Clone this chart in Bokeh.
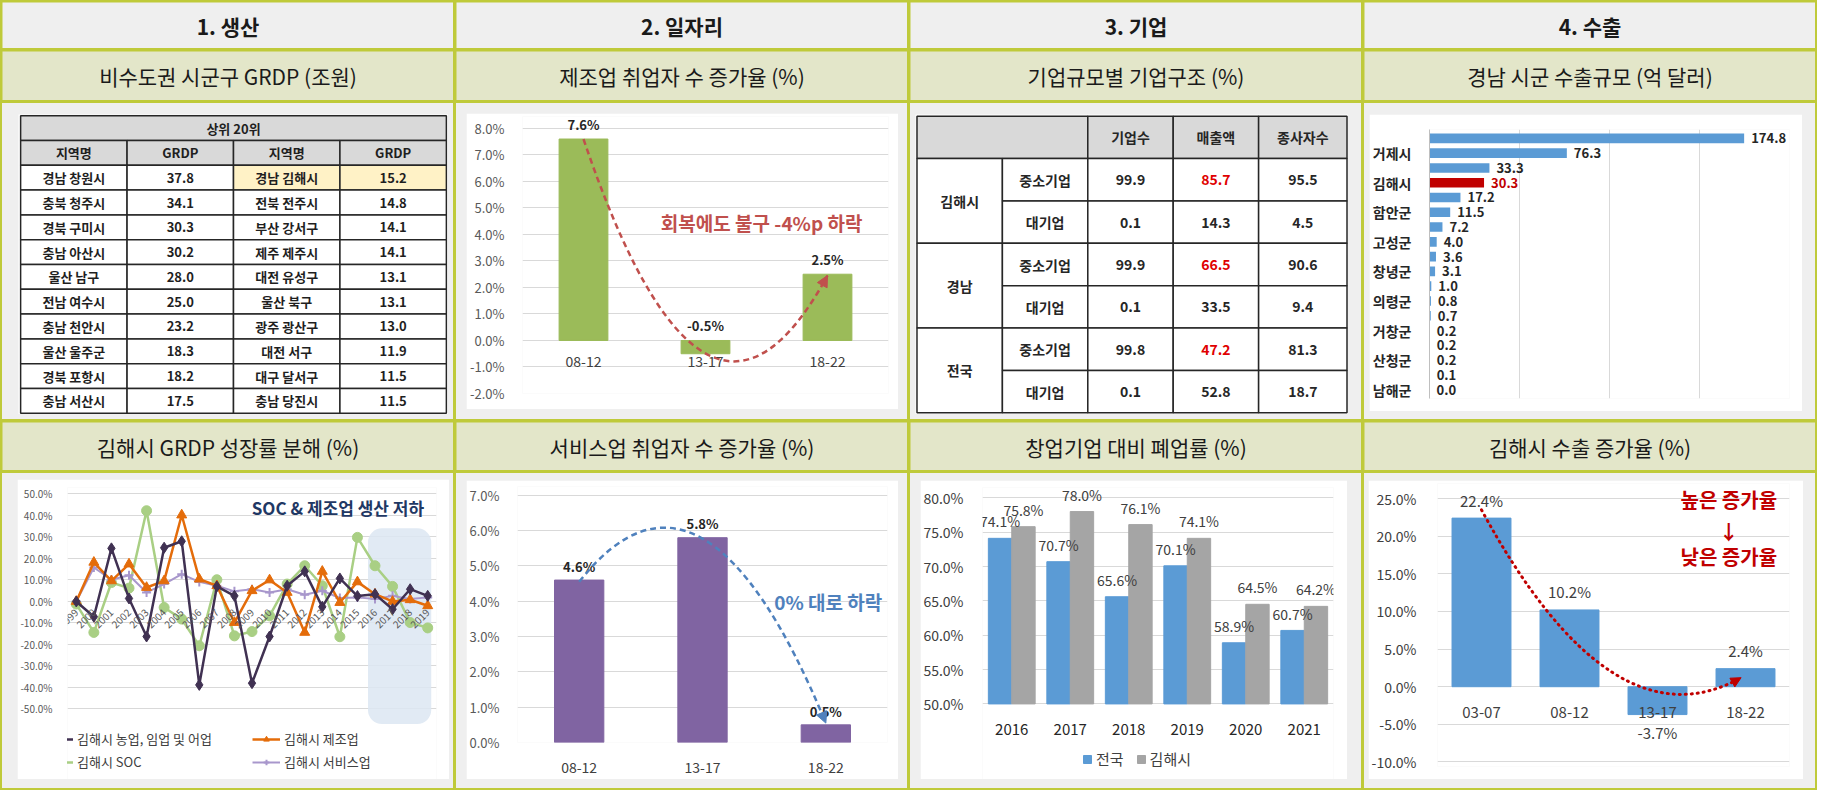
import math
from bokeh.plotting import figure
from bokeh.layouts import row, column
from bokeh.models import (FixedTicker, PrintfTickFormatter, Range1d, Legend, LegendItem,
                          BoxAnnotation, Arrow, NormalHead, Grid)
from bokeh.core.properties import value
from bokeh.embed import file_html
from bokeh.resources import INLINE

FONT = "Noto Sans CJK KR"
GREEN = "#BFCA3A"
HEAD_BG = "#EFEFEF"
SUB_BG = "#E3E6C9"
PANEL_BG = "#EFEFEF"
TABLE_GRAY = "#D9D9D9"
HL_COLOR = "#FFF2C6"
GRID_C = "#D9D9D9"

# ---------------- titles ----------------
SECTION_TITLES = ["1. 생산", "2. 일자리", "3. 기업", "4. 수출"]
TOP_TITLES = ["비수도권 시군구 GRDP (조원)", "제조업 취업자 수 증가율 (%)",
              "기업규모별 기업구조 (%)", "경남 시군 수출규모 (억 달러)"]
BOTTOM_TITLES = ["김해시 GRDP 성장률 분해 (%)", "서비스업 취업자 수 증가율 (%)",
                 "창업기업 대비 폐업률 (%)", "김해시 수출 증가율 (%)"]

# ---------------- panel 1: GRDP table ----------------
GRDP_TITLE = "상위 20위"
GRDP_HEADERS = ["지역명", "GRDP", "지역명", "GRDP"]
GRDP_LEFT_NAMES = ["경남 창원시", "충북 청주시", "경북 구미시", "충남 아산시", "울산 남구",
                   "전남 여수시", "충남 천안시", "울산 울주군", "경북 포항시", "충남 서산시"]
GRDP_LEFT_VALUES = [37.8, 34.1, 30.3, 30.2, 28.0, 25.0, 23.2, 18.3, 18.2, 17.5]
GRDP_RIGHT_NAMES = ["경남 김해시", "전북 전주시", "부산 강서구", "제주 제주시", "대전 유성구",
                    "울산 북구", "광주 광산구", "대전 서구", "대구 달서구", "충남 당진시"]
GRDP_RIGHT_VALUES = [15.2, 14.8, 14.1, 14.1, 13.1, 13.1, 13.0, 11.9, 11.5, 11.5]
GRDP_HIGHLIGHT = "경남 김해시"

# ---------------- panel 2: manufacturing jobs ----------------
MFG_PERIODS = ["08-12", "13-17", "18-22"]
MFG_GROWTH = [7.6, -0.5, 2.5]
MFG_TICKS = [-2.0, -1.0, 0.0, 1.0, 2.0, 3.0, 4.0, 5.0, 6.0, 7.0, 8.0]
MFG_NOTE = "회복에도 불구 -4%p 하락"

# ---------------- panel 3: enterprise structure ----------------
ENT_REGIONS = ["김해시", "경남", "전국"]
ENT_SIZES = ["중소기업", "대기업"]
ENT_COLUMNS = ["기업수", "매출액", "종사자수"]
ENT_COUNT = [99.9, 0.1, 99.9, 0.1, 99.8, 0.1]
ENT_SALES = [85.7, 14.3, 66.5, 33.5, 47.2, 52.8]
ENT_WORKERS = [95.5, 4.5, 90.6, 9.4, 81.3, 18.7]

# ---------------- panel 4: export size by city ----------------
EXP_REGIONS = ["창원시", "거제시", "양산시", "김해시", "진주시", "함안군", "사천시", "고성군", "밀양시",
               "창녕군", "통영시", "의령군", "함양군", "거창군", "하동군", "산청군", "합천군", "남해군"]
EXP_VALUES = [174.8, 76.3, 33.3, 30.3, 17.2, 11.5, 7.2, 4.0, 3.6, 3.1, 1.0, 0.8, 0.7, 0.2, 0.2, 0.2, 0.1, 0.0]
EXP_FOCUS = "김해시"
EXP_GRID = [0, 50, 100, 150, 200]

# ---------------- panel 5: GRDP growth decomposition ----------------
YEARS = [1999, 2000, 2001, 2002, 2003, 2004, 2005, 2006, 2007, 2008, 2009,
         2010, 2011, 2012, 2013, 2014, 2015, 2016, 2017, 2018, 2019]
AGRI = [0.0, -7.1, 24.7, 1.4, -16.3, 25.0, 28.0, -38.8, 7.0, 2.6, -38.0,
        -16.3, 7.3, 14.0, -2.5, 10.7, 2.5, 3.4, -3.6, 5.7, 2.6]
MANU = [0.0, 18.2, 9.6, 17.4, 6.5, 9.6, 40.2, 10.4, 7.3, -9.8, 5.0,
        10.0, 4.2, -14.4, 14.0, -0.5, 9.1, 3.4, 0.0, 0.8, -2.0]
SOC = [-1.2, -14.4, 8.8, 6.2, 42.2, -2.8, -8.2, -20.6, 10.1, -16.0, -14.0,
       -6.7, 8.1, 16.6, 7.3, -16.4, 29.8, 16.6, 7.0, -9.8, -12.3]
SERV = [0.0, 15.8, 10.1, 12.2, 4.2, 8.1, 12.7, 9.1, 7.3, 4.7, 5.7,
        4.2, 5.7, 3.1, 5.0, 1.6, 1.9, 1.1, 2.6, 1.1, 1.9]
SERIES_NAMES = ["김해시 농업, 임업 및 어업", "김해시 제조업", "김해시 SOC", "김해시 서비스업"]
GROWTH_TICKS = [-50, -40, -30, -20, -10, 0, 10, 20, 30, 40, 50]
GROWTH_NOTE = "SOC & 제조업 생산  저하"
HIGHLIGHT_YEARS = (2016, 2019)

# ---------------- panel 6: service jobs ----------------
SVC_PERIODS = ["08-12", "13-17", "18-22"]
SVC_GROWTH = [4.6, 5.8, 0.5]
SVC_TICKS = [0.0, 1.0, 2.0, 3.0, 4.0, 5.0, 6.0, 7.0]
SVC_NOTE = "0% 대로 하락"

# ---------------- panel 7: closure rate ----------------
CLOSE_YEARS = ["2016", "2017", "2018", "2019", "2020", "2021"]
CLOSE_NATION = [74.1, 70.7, 65.6, 70.1, 58.9, 60.7]
CLOSE_GIMHAE = [75.8, 78.0, 76.1, 74.1, 64.5, 64.2]
CLOSE_TICKS = [50, 55, 60, 65, 70, 75, 80]
CLOSE_SERIES = ["전국", "김해시"]

# ---------------- panel 8: Gimhae export growth ----------------
EXPG_PERIODS = ["03-07", "08-12", "13-17", "18-22"]
EXPG_VALUES = [22.4, 10.2, -3.7, 2.4]
EXPG_TICKS = [-10, -5, 0, 5, 10, 15, 20, 25]
EXPG_NOTE = ["높은 증가율", "↓", "낮은 증가율"]

CELL_W = 451
H_HEAD, H_SUB, H_TOP, H_SUB2, H_BOT = 46, 49, 316, 48, 315


def new_fig(w, h, xr, yr, left=0, right=0, top=0, bottom=0, bg="white", **kw):
    p = figure(width=w, height=h, x_range=xr, y_range=yr, output_backend="svg",
               toolbar_location=None, min_border=0, min_border_left=left,
               min_border_right=right, min_border_top=top, min_border_bottom=bottom,
               background_fill_color=bg, border_fill_color=bg, outline_line_color=None, **kw)
    return p


def txt(p, x, y, t, size, color="#262626", bold=False, align="center", baseline="middle", **kw):
    return p.text(x=x, y=y, text=t, text_font=value(FONT), text_font_size=size,
                  text_font_style="bold" if bold else "normal", text_color=color,
                  text_align=align, text_baseline=baseline, **kw)


def style_axes(p, ysize, xsize, ycolor="#595959", xcolor="#404040"):
    for ax in p.axis:
        ax.axis_line_color = None
        ax.major_tick_line_color = None
        ax.minor_tick_line_color = None
        ax.major_label_text_font = FONT
    p.yaxis.major_label_text_font_size = ysize
    p.yaxis.major_label_text_color = ycolor
    p.xaxis.major_label_text_font_size = xsize
    p.xaxis.major_label_text_color = xcolor
    p.xgrid.visible = False
    p.ygrid.grid_line_color = GRID_C


def add_head(p, x, y, dx, dy, color, frac=0.05, size=11):
    p.add_layout(Arrow(end=NormalHead(size=size, fill_color=color, line_color=color),
                       x_start=x - frac * dx, y_start=y - frac * dy, x_end=x, y_end=y,
                       line_color=color, line_width=2, line_alpha=0))


def title_cell(text, h, bg, size, bold):
    p = new_fig(CELL_W, h, Range1d(0, 1), Range1d(0, 1), bg=bg,
                x_axis_location=None, y_axis_location=None)
    p.grid.visible = False
    txt(p, [0.5], [0.5], [text], size, color="#1A1A1A", bold=bold)
    return p


def wrap(p, m):
    p.margin = m
    return column(p, styles={"background-color": PANEL_BG})


def make_legend(items, loc, size, gw, gh, spacing, orientation="vertical", lh=20):
    return Legend(items=items, location=loc, orientation=orientation, label_text_font=FONT,
                  label_text_font_size=size, label_text_color="#404040",
                  glyph_width=gw, glyph_height=gh, label_height=lh, label_standoff=4,
                  spacing=spacing, padding=0, margin=0, border_line_color=None,
                  background_fill_alpha=0)


# ---------------- panel builders ----------------
def grdp_table():
    n = len(GRDP_LEFT_NAMES)
    p = new_fig(430, 300, Range1d(-0.02, 4.02), Range1d(n + 2 + 0.05, -0.05),
                x_axis_location=None, y_axis_location=None)
    p.grid.visible = False
    L, R, T, B, C = [], [], [], [], []

    def cell(l, r, t, b, c):
        L.append(l); R.append(r); T.append(t); B.append(b); C.append(c)

    cell(0, 4, 0, 1, TABLE_GRAY)
    for j in range(4):
        cell(j, j + 1, 1, 2, TABLE_GRAY)
    for i in range(n):
        hl_l = GRDP_LEFT_NAMES[i] == GRDP_HIGHLIGHT
        hl_r = GRDP_RIGHT_NAMES[i] == GRDP_HIGHLIGHT
        for j in range(4):
            hl = hl_l if j < 2 else hl_r
            cell(j, j + 1, i + 2, i + 3, HL_COLOR if hl else "white")
    p.quad(left=L, right=R, top=T, bottom=B, fill_color=C, line_color="#262626", line_width=1.5)
    tx, ty, tt = [2.0], [0.5], [GRDP_TITLE]
    for j, h in enumerate(GRDP_HEADERS):
        tx.append(j + 0.5); ty.append(1.5); tt.append(h)
    for i in range(n):
        vals = [GRDP_LEFT_NAMES[i], f"{GRDP_LEFT_VALUES[i]:.1f}",
                GRDP_RIGHT_NAMES[i], f"{GRDP_RIGHT_VALUES[i]:.1f}"]
        for j, s in enumerate(vals):
            tx.append(j + 0.5); ty.append(i + 2.5); tt.append(s)
    txt(p, tx, ty, tt, "13px", color="#1F1F1F", bold=True)
    return p


def mfg_chart():
    xs = list(range(len(MFG_PERIODS)))
    p = new_fig(432, 296, Range1d(-0.5, len(xs) - 0.5), Range1d(-2.0, 8.45),
                left=50, right=10, top=3, bottom=16)
    style_axes(p, "13px", "14px")
    p.yaxis.ticker = FixedTicker(ticks=MFG_TICKS)
    p.yaxis.formatter = PrintfTickFormatter(format="%.1f%%")
    p.yaxis.major_label_standoff = 12
    p.xaxis.ticker = FixedTicker(ticks=xs)
    p.xaxis.major_label_overrides = {x: s for x, s in zip(xs, MFG_PERIODS)}
    p.xaxis.fixed_location = 0
    p.xaxis.major_label_standoff = 10
    p.vbar(x=xs, top=MFG_GROWTH, width=0.4, color="#9BBB59")
    txt(p, xs, [max(v, 0) + 0.2 for v in MFG_GROWTH], [f"{v:.1f}%" for v in MFG_GROWTH],
        "13px", bold=True, baseline="bottom")
    red = "#C0504D"
    x0, y0 = xs[0], MFG_GROWTH[0]
    x1, y1 = xs[-1], MFG_GROWTH[-1] - 0.05
    cx, cy = 1.0, -6.0
    p.quadratic(x0=[x0], y0=[y0], x1=[x1], y1=[y1], cx=[cx], cy=[cy],
                line_color=red, line_width=2.5, line_dash="6 4")
    add_head(p, x1, y1, x1 - cx, y1 - cy, red)
    txt(p, [1.46], [4.45], [MFG_NOTE], "19px", color=red, bold=True)
    return p


def ent_table():
    edges = [0, 86, 172, 258, 344, 433]
    nrow = len(ENT_REGIONS) * len(ENT_SIZES)
    p = new_fig(433, 300, Range1d(-1.5, 434.5), Range1d(nrow + 1 + 0.04, -0.04),
                x_axis_location=None, y_axis_location=None)
    p.grid.visible = False
    L, R, T, B, C = [], [], [], [], []

    def cell(l, r, t, b, c):
        L.append(l); R.append(r); T.append(t); B.append(b); C.append(c)

    cell(edges[0], edges[2], 0, 1, TABLE_GRAY)
    for j in range(len(ENT_COLUMNS)):
        cell(edges[j + 2], edges[j + 3], 0, 1, TABLE_GRAY)
    tx, ty, tt, tc = [], [], [], []
    for j, h in enumerate(ENT_COLUMNS):
        tx.append((edges[j + 2] + edges[j + 3]) / 2); ty.append(0.5); tt.append(h)
        tc.append("#262626")
    for g, reg in enumerate(ENT_REGIONS):
        r0 = 1 + g * len(ENT_SIZES)
        cell(edges[0], edges[1], r0, r0 + len(ENT_SIZES), "white")
        tx.append((edges[0] + edges[1]) / 2); ty.append(r0 + len(ENT_SIZES) / 2); tt.append(reg)
        tc.append("#262626")
        for s, size in enumerate(ENT_SIZES):
            k = g * len(ENT_SIZES) + s
            rr = r0 + s
            cell(edges[1], edges[2], rr, rr + 1, "white")
            tx.append((edges[1] + edges[2]) / 2); ty.append(rr + 0.5); tt.append(size)
            tc.append("#262626")
            for j, vals in enumerate([ENT_COUNT, ENT_SALES, ENT_WORKERS]):
                cell(edges[j + 2], edges[j + 3], rr, rr + 1, "white")
                tx.append((edges[j + 2] + edges[j + 3]) / 2); ty.append(rr + 0.5)
                tt.append(f"{vals[k]:.1f}")
                red = (ENT_COLUMNS[j] == "매출액" and size == "중소기업")
                tc.append("#E00000" if red else "#262626")
    p.quad(left=L, right=R, top=T, bottom=B, fill_color=C, line_color="#262626", line_width=1.5)
    txt(p, tx, ty, tt, "14px", color=tc, bold=True)
    return p


def export_size():
    n = len(EXP_REGIONS)
    rows = list(range(1, n + 1))
    p = new_fig(433, 297, Range1d(0, 200), Range1d(n + 0.6, 0.4),
                left=59, right=13, top=15, bottom=13, x_axis_location=None)
    p.grid.visible = False
    p.add_layout(Grid(dimension=0, ticker=FixedTicker(ticks=EXP_GRID), grid_line_color=GRID_C), "center")
    for ax in p.axis:
        ax.axis_line_color = "#BFBFBF"
        ax.major_tick_line_color = None
        ax.minor_tick_line_color = None
        ax.major_label_text_font = FONT
        ax.major_label_text_font_size = "14px"
        ax.major_label_text_font_style = "bold"
        ax.major_label_text_color = "#262626"
        ax.major_label_standoff = 12
    shown = [r for r in rows if r % 2 == 0]
    p.yaxis.ticker = FixedTicker(ticks=shown)
    p.yaxis.major_label_overrides = {r: EXP_REGIONS[r - 1] for r in shown}
    colors = ["#C00000" if nm == EXP_FOCUS else "#5B9BD5" for nm in EXP_REGIONS]
    tcolors = ["#C00000" if nm == EXP_FOCUS else "#262626" for nm in EXP_REGIONS]
    p.hbar(y=rows, right=EXP_VALUES, height=0.65, fill_color=colors, line_color=None)
    txt(p, EXP_VALUES, rows, [f"{v:.1f}" for v in EXP_VALUES], "13px", color=tcolors,
        bold=True, align="left", x_offset=7)
    return p


def growth_lines():
    p = new_fig(432, 300, Range1d(YEARS[0] - 0.5, YEARS[-1] + 0.5), Range1d(-82.8, 53),
                left=45, right=13, top=8, bottom=0)
    style_axes(p, "10px", "10px", xcolor="#595959")
    p.yaxis.ticker = FixedTicker(ticks=GROWTH_TICKS)
    p.yaxis.formatter = PrintfTickFormatter(format="%.1f%%")
    p.yaxis.major_label_standoff = 9
    p.xaxis.ticker = FixedTicker(ticks=YEARS)
    p.xaxis.major_label_overrides = {y: str(y) for y in YEARS}
    p.xaxis.fixed_location = 0
    p.xaxis.major_label_orientation = math.pi / 4
    p.xaxis.major_label_standoff = 3
    p.add_layout(BoxAnnotation(left=HIGHLIGHT_YEARS[0] - 0.4, right=HIGHLIGHT_YEARS[1] + 0.2,
                               top=34, bottom=-57, fill_color="#DCE6F2", fill_alpha=0.85,
                               line_color=None, border_radius=14, level="underlay"))
    specs = [(AGRI, "#403152", "diamond", 11, 2.5),
             (MANU, "#E46C0A", "triangle", 10, 2.5),
             (SOC, "#A9CF84", "circle", 10, 2.5),
             (SERV, "#A897CC", "cross", 9, 2.0)]
    rend = {}
    for k in [2, 3, 1, 0]:
        vals, col, mk, sz, lw = specs[k]
        rl = p.line(YEARS, vals, line_color=col, line_width=lw)
        rs = p.scatter(YEARS, vals, marker=mk, size=sz, fill_color=col, line_color=col,
                       line_width=2 if mk == "cross" else 1)
        rend[k] = [rl, rs]
    leg_a = make_legend([LegendItem(label=SERIES_NAMES[0], renderers=rend[0]),
                         LegendItem(label=SERIES_NAMES[2], renderers=rend[2])],
                        (-22, 8), "13px", 28, 14, 4, lh=16)
    leg_b = make_legend([LegendItem(label=SERIES_NAMES[1], renderers=rend[1]),
                         LegendItem(label=SERIES_NAMES[3], renderers=rend[3])],
                        (185, 8), "13px", 28, 14, 4, lh=16)
    p.add_layout(leg_a)
    p.add_layout(leg_b)
    txt(p, [2014.0], [43.5], [GROWTH_NOTE], "17px", color="#1F3864", bold=True)
    return p


def svc_chart():
    xs = list(range(len(SVC_PERIODS)))
    p = new_fig(432, 299, Range1d(-0.5, len(xs) - 0.5), Range1d(0, 7.25),
                left=48, right=11, top=6, bottom=37)
    style_axes(p, "13px", "14px")
    p.yaxis.ticker = FixedTicker(ticks=SVC_TICKS)
    p.yaxis.formatter = PrintfTickFormatter(format="%.1f%%")
    p.yaxis.major_label_standoff = 12
    p.xaxis.ticker = FixedTicker(ticks=xs)
    p.xaxis.major_label_overrides = {x: s for x, s in zip(xs, SVC_PERIODS)}
    p.xaxis.major_label_standoff = 13
    p.vbar(x=xs, top=SVC_GROWTH, width=0.4, color="#8064A2")
    txt(p, xs, [v + 0.12 for v in SVC_GROWTH], [f"{v:.1f}%" for v in SVC_GROWTH],
        "13px", bold=True, baseline="bottom")
    blue = "#4F81BD"
    x0, y0 = xs[0], SVC_GROWTH[0] - 0.05
    x1, y1 = xs[-1], SVC_GROWTH[-1] + 0.05
    cx, cy = 1.0, 9.0
    p.quadratic(x0=[x0], y0=[y0], x1=[x1], y1=[y1], cx=[cx], cy=[cy],
                line_color=blue, line_width=2.5, line_dash="6 4")
    add_head(p, x1, y1, x1 - cx, y1 - cy, blue)
    txt(p, [2.02], [4.0], [SVC_NOTE], "19px", color=blue, bold=True)
    return p


def closure_chart():
    xs = list(range(len(CLOSE_YEARS)))
    base = CLOSE_TICKS[0]
    p = new_fig(427, 299, Range1d(-0.5, len(xs) - 0.5), Range1d(39.0, 81.5),
                left=58, right=14, top=7, bottom=0)
    style_axes(p, "14px", "15px", ycolor="#404040", xcolor="#262626")
    p.yaxis.ticker = FixedTicker(ticks=CLOSE_TICKS)
    p.yaxis.formatter = PrintfTickFormatter(format="%.1f%%")
    p.yaxis.major_label_standoff = 13
    p.xaxis.ticker = FixedTicker(ticks=xs)
    p.xaxis.major_label_overrides = {x: s for x, s in zip(xs, CLOSE_YEARS)}
    p.xaxis.fixed_location = base
    p.xaxis.major_label_standoff = 14
    xa = [x - 0.2 for x in xs]
    xb = [x + 0.2 for x in xs]
    r1 = p.vbar(x=xa, bottom=base, top=CLOSE_NATION, width=0.4, color="#5B9BD5")
    r2 = p.vbar(x=xb, bottom=base, top=CLOSE_GIMHAE, width=0.4, color="#A5A5A5")
    txt(p, xa, [v + 1.0 for v in CLOSE_NATION], [f"{v:.1f}%" for v in CLOSE_NATION],
        "14px", color="#404040", baseline="bottom")
    txt(p, xb, [v + 1.0 for v in CLOSE_GIMHAE], [f"{v:.1f}%" for v in CLOSE_GIMHAE],
        "14px", color="#404040", baseline="bottom")
    leg = make_legend([LegendItem(label=CLOSE_SERIES[0], renderers=[r1]),
                       LegendItem(label=CLOSE_SERIES[1], renderers=[r2])],
                      (100, 10), "15px", 10, 10, 12, orientation="horizontal")
    p.add_layout(leg)
    return p


def export_growth():
    xs = list(range(len(EXPG_PERIODS)))
    p = new_fig(435, 299, Range1d(-0.5, len(xs) - 0.5), Range1d(-10.6, 27),
                left=65, right=14, top=3, bottom=13)
    style_axes(p, "14px", "15px", ycolor="#404040", xcolor="#404040")
    p.yaxis.ticker = FixedTicker(ticks=EXPG_TICKS)
    p.yaxis.formatter = PrintfTickFormatter(format="%.1f%%")
    p.yaxis.major_label_standoff = 15
    p.xaxis.ticker = FixedTicker(ticks=xs)
    p.xaxis.major_label_overrides = {x: s for x, s in zip(xs, EXPG_PERIODS)}
    p.xaxis.fixed_location = 0
    p.xaxis.major_label_standoff = 14
    p.vbar(x=xs, top=EXPG_VALUES, width=0.67, color="#5B9BD5")
    pos = [(x, v) for x, v in zip(xs, EXPG_VALUES) if v >= 0]
    neg = [(x, v) for x, v in zip(xs, EXPG_VALUES) if v < 0]
    txt(p, [a for a, _ in pos], [v + 1.0 for _, v in pos], [f"{v:.1f}%" for _, v in pos],
        "15px", color="#404040", baseline="bottom")
    txt(p, [a for a, _ in neg], [v - 1.0 for _, v in neg], [f"{v:.1f}%" for _, v in neg],
        "15px", color="#404040", baseline="top")
    red = "#C00000"
    x0, y0 = xs[0], EXPG_VALUES[0] + 1.1
    x1, y1 = xs[-1] - 0.05, EXPG_VALUES[-1] - 1.2
    cx, cy = 1.48, -8.4
    p.quadratic(x0=[x0], y0=[y0], x1=[x1], y1=[y1], cx=[cx], cy=[cy],
                line_color=red, line_width=3, line_dash="1 5", line_cap="round")
    add_head(p, x1, y1, x1 - cx, y1 - cy, red, frac=0.08, size=10)
    txt(p, [2.81, 2.81, 2.81], [24.9, 20.6, 17.3], EXPG_NOTE, "20px", color=red, bold=True)
    return p


top_panels = [wrap(grdp_table(), (11, 5, 5, 16)),
              wrap(mfg_chart(), (10, 9, 10, 10)),
              wrap(ent_table(), (11, 13, 5, 5)),
              wrap(export_size(), (11, 13, 8, 5))]
bottom_panels = [wrap(growth_lines(), (6, 4, 9, 15)),
                 wrap(svc_chart(), (7, 9, 9, 10)),
                 wrap(closure_chart(), (7, 14, 9, 10)),
                 wrap(export_growth(), (7, 12, 9, 4))]

cols = []
for i in range(4):
    c = column(title_cell(SECTION_TITLES[i], H_HEAD, HEAD_BG, "21px", True),
               title_cell(TOP_TITLES[i], H_SUB, SUB_BG, "21px", False),
               top_panels[i],
               title_cell(BOTTOM_TITLES[i], H_SUB2, SUB_BG, "21px", False),
               bottom_panels[i],
               spacing=3, styles={"background-color": GREEN})
    c.margin = (2, 2 if i == 3 else 0, 2, 2 if i == 0 else 0)
    cols.append(c)

root = row(*cols, spacing=3, styles={"background-color": GREEN})

open("out.html", "w").write(file_html(root, INLINE, title="김해시 경제 지표"))
